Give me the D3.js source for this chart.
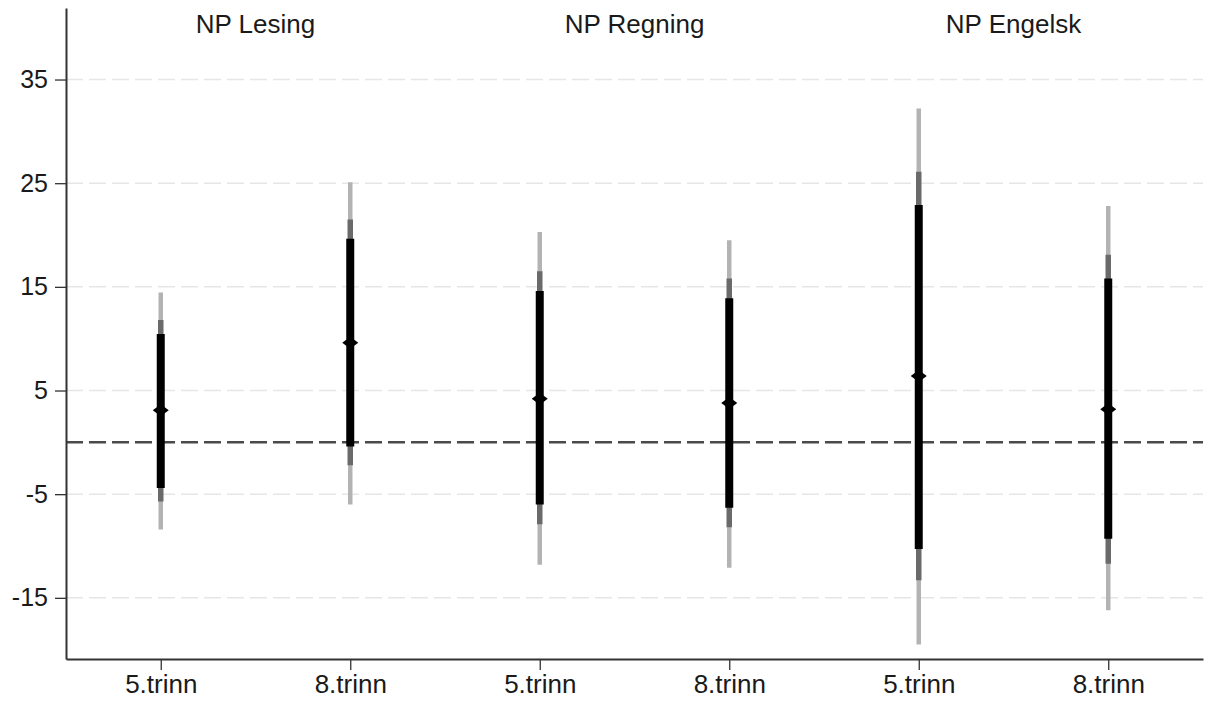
<!DOCTYPE html>
<html><head><meta charset="utf-8">
<script src="https://cdn.jsdelivr.net/npm/d3@7"></script>
<style>body{margin:0;background:#fff}</style>
</head><body><svg id="c" width="1205" height="702"></svg>
<script>
const subjects = ["NP Lesing", "NP Regning", "NP Engelsk"];
const grades = ["5.trinn", "8.trinn"];
const keys = ["L5", "L8", "R5", "R8", "E5", "E8"];
const estimate = [3.1, 9.6, 4.2, 3.8, 6.4, 3.2];
const innerLow = [-4.4, -0.4, -6.0, -6.3, -10.3, -9.3];
const innerHigh = [10.45, 19.65, 14.6, 13.9, 22.9, 15.8];
const midLow = [-5.7, -2.2, -7.9, -8.2, -13.3, -11.7];
const midHigh = [11.8, 21.5, 16.5, 15.8, 26.1, 18.1];
const outerLow = [-8.4, -6.0, -11.8, -12.1, -19.5, -16.2];
const outerHigh = [14.45, 25.1, 20.3, 19.5, 32.2, 22.8];
const yTicks = [-15, -5, 5, 15, 25, 35];

const svg = d3.select("#c");
const font = "'Liberation Sans', Arial, Helvetica, sans-serif";
const x = d3.scalePoint().domain(keys).range([66, 1203]).padding(0.5);
const y = d3.scaleLinear().domain([-20.9, 41.9]).range([659, 8]);

// gridlines
svg.append("g").selectAll("line").data(yTicks).join("line")
  .attr("x1", 66).attr("x2", 1203)
  .attr("y1", d => y(d)).attr("y2", d => y(d))
  .attr("stroke", "#e6e6e6").attr("stroke-width", 1.5)
  .attr("stroke-dasharray", "17,6");

// zero line
svg.append("line")
  .attr("x1", 66).attr("x2", 1203).attr("y1", y(0)).attr("y2", y(0))
  .attr("stroke", "#4a4a4a").attr("stroke-width", 2.5)
  .attr("stroke-dasharray", "17,6");

// axes
const ya = svg.append("g").attr("transform", "translate(66,0)")
  .call(d3.axisLeft(y).tickValues(yTicks).tickSize(11).tickSizeOuter(0).tickPadding(7).tickFormat(d => String(d)));
const xa = svg.append("g").attr("transform", "translate(0,659)")
  .call(d3.axisBottom(x).tickSize(11).tickSizeOuter(0).tickPadding(5).tickFormat((d, i) => grades[i % 2]));
[ya, xa].forEach(a => {
  a.select(".domain").attr("stroke", "#333").attr("stroke-width", 2);
  a.selectAll(".tick line").attr("stroke", "#333").attr("stroke-width", 1.3);
  a.selectAll("text").attr("font-family", font).attr("font-size", 26).attr("fill", "#1a1a1a");
});
ya.selectAll("text").attr("font-size", 25);

// titles
svg.append("g").selectAll("text").data(subjects).join("text")
  .attr("x", (d, i) => (x(keys[2 * i]) + x(keys[2 * i + 1])) / 2)
  .attr("y", 33).attr("text-anchor", "middle")
  .attr("font-family", font).attr("font-size", 26).attr("fill", "#1a1a1a")
  .text(d => d);

// intervals
const g = svg.append("g");
function bars(lo, hi, color, w) {
  g.append("g").selectAll("line").data(keys).join("line")
    .attr("x1", d => x(d)).attr("x2", d => x(d))
    .attr("y1", (d, i) => y(lo[i])).attr("y2", (d, i) => y(hi[i]))
    .attr("stroke", color).attr("stroke-width", w);
}
bars(outerLow, outerHigh, "#b3b3b3", 4.5);
bars(midLow, midHigh, "#6a6a6a", 5.5);
bars(innerLow, innerHigh, "#000", 8);

// point estimates
g.append("g").selectAll("path").data(keys).join("path")
  .attr("transform", (d, i) => `translate(${x(d)},${y(estimate[i])})`)
  .attr("d", "M-8,0L0,-6L8,0L0,6Z")
  .attr("fill", "#000");
</script></body></html>
